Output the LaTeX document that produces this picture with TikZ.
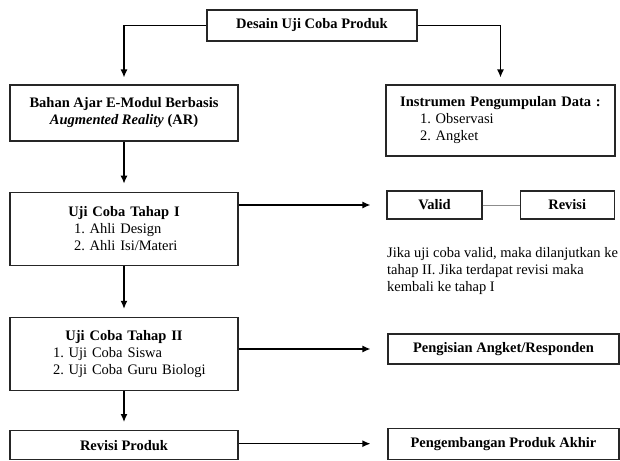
\documentclass[tikz,border=0pt]{standalone}
\usepackage{fontspec}
\setmainfont{Liberation Serif}
\frenchspacing
\usetikzlibrary{shapes, arrows, arrows.meta, positioning}
\tikzstyle{box} = [rectangle, minimum height=30pt, inner sep=0pt, align=center, draw=black!85, line width=1.2pt]
\tikzstyle{listbox} = [box, align=left]
\tikzstyle{note} = [align=left, anchor=north west, inner sep=0pt]
\tikzstyle{arrow} = [line width=1.2pt, -{Latex[length=8pt,width=7pt]}]
\tikzstyle{link} = [line width=1pt, draw=black!45]
\newcommand{\judul}[1]{{\centering\textbf{#1}\par}}
\newcommand{\butir}[2]{\noindent\hspace*{#1}#2}

\begin{document}
\begin{tikzpicture}[x=1pt, y=-1pt, font=\fontsize{14.5}{17}\selectfont]
	\useasboundingbox (0,0) rectangle (620,460);
	\node (desain) [box, minimum width=210pt, minimum height=31pt] at (312,25.5) {\textbf{Desain Uji Coba Produk}};
	\node (bahan) [box, minimum width=228pt, minimum height=56pt] at (124,113) {\textbf{Bahan Ajar E-Modul Berbasis}\\\textbf{\textit{Augmented Reality} (AR)}};
	\node (instrumen) [listbox, text width=229pt, minimum height=71pt] at (500.5,120.5) {\judul{Instrumen Pengumpulan Data :}\butir{34pt}{1. Observasi}\\\butir{34pt}{2. Angket}};
	\node (tahapsatu) [listbox, text width=228pt, minimum height=73pt, below=50pt of bahan] {\judul{Uji Coba Tahap I}\butir{64pt}{1. Ahli Design}\\\butir{64pt}{2. Ahli Isi/Materi}};
	\node (valid) [box, minimum width=95pt, minimum height=28pt] at (434.5,205) {\textbf{Valid}};
	\node (revisi) [box, minimum width=94pt, minimum height=28pt, right=37pt of valid] {\textbf{Revisi}};
	\node (ket) [note] at (387,247) {Jika uji coba valid, maka dilanjutkan ke\\tahap II. Jika terdapat revisi maka\\kembali ke tahap I};
	\node (tahapdua) [listbox, text width=228pt, minimum height=73pt, below=51pt of tahapsatu] {\judul{Uji Coba Tahap II}\butir{43pt}{1. Uji Coba Siswa}\\\butir{43pt}{2. Uji Coba Guru Biologi}};
	\node (revproduk) [box, minimum width=228pt, minimum height=29pt, below=39pt of tahapdua] {\textbf{Revisi Produk}};
	\node (angket) [box, minimum width=231pt, minimum height=30pt] at (503.5,349) {\textbf{Pengisian Angket/Responden}};
	\node (akhir) [box, minimum width=231pt, minimum height=31pt, below=63pt of angket] {\textbf{Pengembangan Produk Akhir}};
	\draw [arrow, shorten >=7pt] (desain.west) -| (bahan.north);
	\draw [arrow, shorten >=7pt] (desain.east) -| (instrumen.north);
	\draw [arrow, shorten >=8pt] (bahan) -- (tahapsatu);
	\draw [arrow, shorten >=16pt] (tahapsatu.east |- valid.west) -- (valid.west);
	\draw [link] (valid) -- (revisi);
	\draw [arrow, shorten >=8pt] (tahapsatu) -- (tahapdua);
	\draw [arrow, shorten >=17pt] (tahapdua.east |- angket.west) -- (angket.west);
	\draw [arrow, shorten >=8pt] (tahapdua) -- (revproduk);
	\draw [arrow, shorten >=17pt] (revproduk.east |- akhir.west) -- (akhir.west);
\end{tikzpicture}
\end{document}
